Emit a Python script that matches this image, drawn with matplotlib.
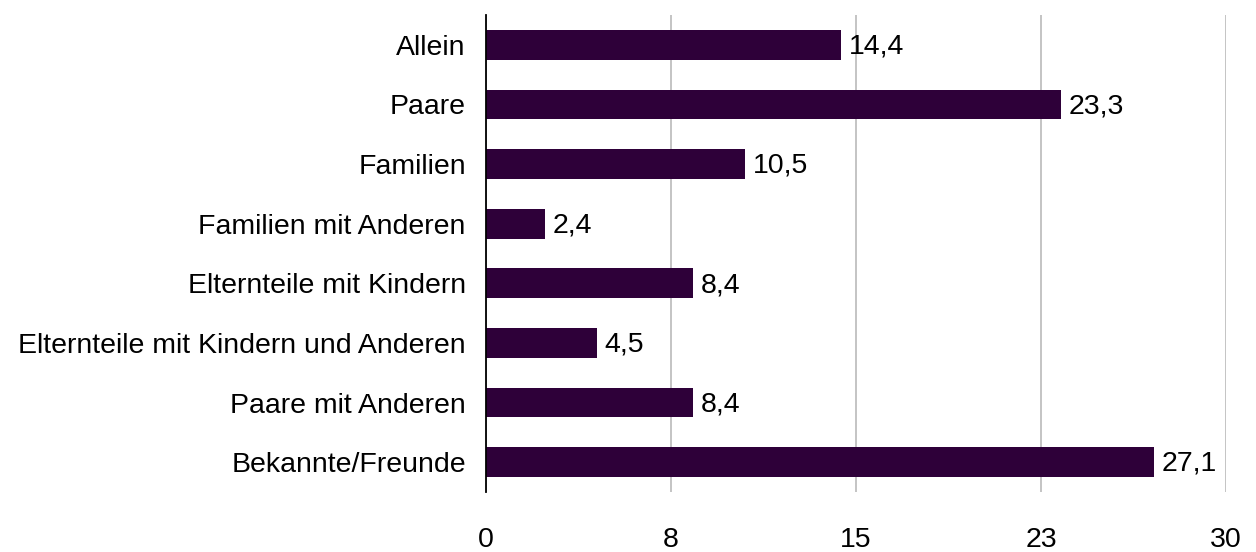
import matplotlib
matplotlib.use("Agg")
import matplotlib.pyplot as plt

categories = ["Allein", "Paare", "Familien", "Familien mit Anderen",
              "Elternteile mit Kindern", "Elternteile mit Kindern und Anderen",
              "Paare mit Anderen", "Bekannte/Freunde"]
values = [14.4, 23.3, 10.5, 2.4, 8.4, 4.5, 8.4, 27.1]
xticks = [0, 7.5, 15, 22.5, 30]
xtick_labels = ["0", "8", "15", "23", "30"]

plt.rcParams['font.family'] = ['Liberation Sans', 'DejaVu Sans']
FS = 20.5

fig = plt.figure(figsize=(12.56, 5.52), dpi=100)
ax = fig.add_axes([486/1256, 1 - 492/552, (1226-486)/1256, (492-15)/552])

y = list(range(len(categories)))
ax.barh(y, values, height=0.5, color="#2E0039", zorder=3)
for yi, v in zip(y, values):
    ax.text(v + 0.3, yi + 0.03, f"{v:.1f}".replace(".", ","), va="center", ha="left",
            fontsize=FS, zorder=4)

ax.set_ylim(len(categories) - 0.5, -0.5)
ax.set_xlim(0, 30)
ax.set_yticks(y)
ax.set_yticklabels(categories, fontsize=FS)
ax.set_xticks(xticks)
ax.set_xticklabels(xtick_labels, fontsize=FS)
ax.tick_params(axis='both', length=0)
ax.tick_params(axis='x', pad=25)
ax.tick_params(axis='y', pad=14.5)
ax.xaxis.grid(True, color="#BFBFBF", linewidth=1.3, zorder=0)
for s in ["top", "right", "bottom"]:
    ax.spines[s].set_visible(False)
ax.spines["left"].set_color("black")
ax.spines["left"].set_linewidth(1.3)
ax.spines["left"].set_zorder(5)

fig.savefig("out.png", dpi=100)
